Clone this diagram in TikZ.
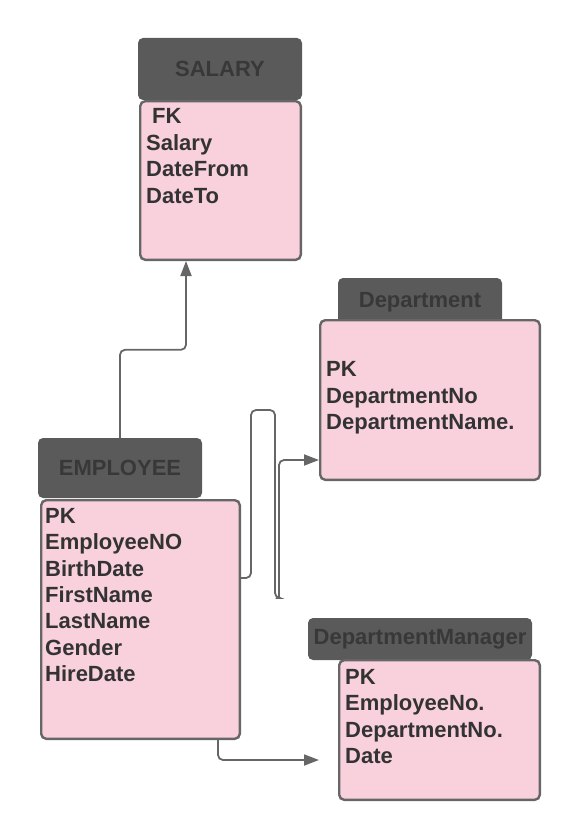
\documentclass[tikz,border=0pt]{standalone}
\usepackage{fontspec}
\setmainfont{Liberation Sans}
\usetikzlibrary{arrows.meta}

\definecolor{headgray}{HTML}{5A5A5A}
\definecolor{headtext}{HTML}{383838}
\definecolor{bodypink}{HTML}{F9D1DC}
\definecolor{edgegray}{HTML}{666666}
\definecolor{fieldtext}{HTML}{333333}

\begin{document}
\begin{tikzpicture}[x=1pt, y=-1pt,
    header/.style={rectangle, rounded corners=5pt, fill=headgray, text=headtext, inner sep=0pt,
      font=\fontsize{22}{26}\selectfont\bfseries},
    body/.style={rectangle, rounded corners=5pt, fill=bodypink, draw=edgegray, line width=2.4pt, inner sep=0pt},
    fields/.style={anchor=north west, align=left, text=fieldtext, inner sep=0pt,
      font=\fontsize{22}{26.4}\selectfont\bfseries},
    link/.style={draw=edgegray, line width=1.8pt, rounded corners=5pt, -{Triangle[length=15pt,width=11pt]}}]
  \useasboundingbox (0,0) rectangle (580,840);

  % Tabelle: testata scura e corpo rosa
  \node[header, minimum width=164pt, minimum height=62pt] (salhead) at (220,69) {SALARY};
  \node[body, minimum width=160.6pt, minimum height=158.6pt] (salbody) at (220.5,180.5) {};
  \node[fields] (salfields) at (146,108.5) {\hspace*{6pt}FK\\Salary\\DateFrom\\DateTo};

  \node[header, minimum width=164pt, minimum height=48pt] (depthead) at (420,302) {Department};
  \node[body, minimum width=219.6pt, minimum height=159.6pt] (deptbody) at (430,400) {};
  \node[fields] (deptfields) at (326,361.5) {PK\\DepartmentNo\\DepartmentName.};

  \node[header, minimum width=164pt, minimum height=60pt] (emphead) at (120,468) {EMPLOYEE};
  \node[body, minimum width=198.6pt, minimum height=238.6pt] (empbody) at (140.5,619.5) {};
  \node[fields] (empfields) at (45,508) {PK\\EmployeeNO\\BirthDate\\FirstName\\LastName\\Gender\\HireDate};

  \node[header, minimum width=224pt, minimum height=42pt] (mgrhead) at (420,639) {DepartmentManager};
  \node[body, minimum width=200.6pt, minimum height=139.6pt] (mgrbody) at (439.5,730) {};
  \node[fields] (mgrfields) at (345,669) {PK\\EmployeeNo.\\DepartmentNo.\\Date};

  % Collegamenti
  \draw[link] (emphead.north) -- ++(0,-88) -| ([xshift=-34.5pt]salbody.south);
  \draw[link] ([yshift=41.5pt]empbody.east) -- ++(10,0) -- ++(0,-168) -- ++(24,0) -- ++(0,188)
    [rounded corners=1.5pt] -- ++(4,0) [rounded corners=5pt] -- ++(0,-138) -- ([yshift=-60pt]deptbody.west);
  \draw[link] ([xshift=77.5pt]empbody.south) |- ([xshift=-19pt,yshift=-30pt]mgrbody.west);
\end{tikzpicture}
\end{document}
